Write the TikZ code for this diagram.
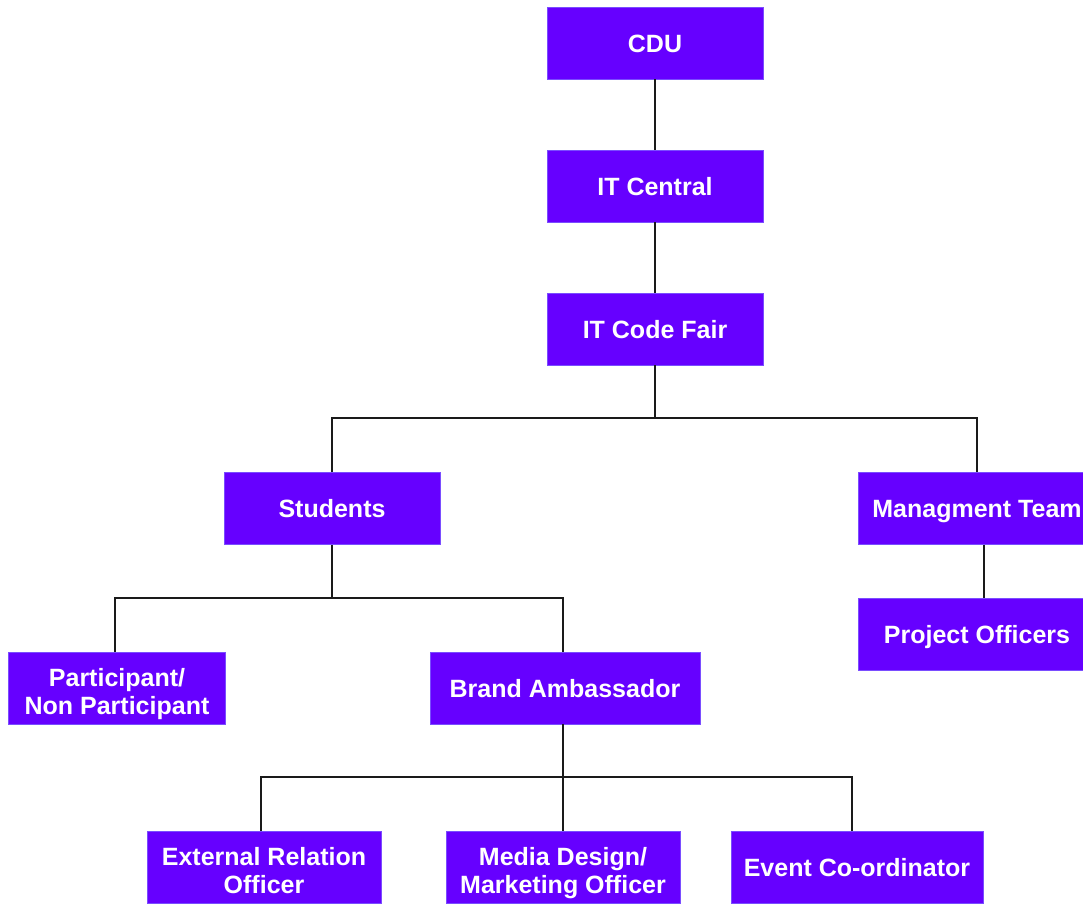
\documentclass[tikz,border=0pt]{standalone}
\usepackage{fontspec}
\setmainfont{Liberation Sans}
\definecolor{boxfill}{HTML}{6600FF}
\definecolor{boxedge}{HTML}{7A4DFF}
\definecolor{linecol}{HTML}{1A1A1A}
\begin{document}
\begin{tikzpicture}[x=1pt,y=-1pt,
  box/.style={rectangle, fill=boxfill, draw=boxedge, line width=0.8pt,
    minimum height=72pt, inner sep=0pt, text=white, align=center,
    font=\fontsize{25}{28}\selectfont\bfseries},
  one/.style={box, text height=18.5pt, text depth=0pt},
  two/.style={box, text height=52pt, text depth=0pt},
  conn/.style={draw=linecol, line width=1.3pt}]
\useasboundingbox (0,0) rectangle (1083,903);
\node[one, minimum width=216pt] (cdu) at (655,43) {CDU};
\node[one, minimum width=216pt] (itc) at (655,186) {IT Central};
\node[one, minimum width=216pt] (icf) at (655,329) {IT Code Fair};
\node[one, minimum width=216pt] (stu) at (332,508.5) {Students};
\node[one, minimum width=238pt] (mgt) at (977,508.5) {Managment Team};
\node[one, minimum width=238pt] (po) at (977,634) {Project Officers};
\node[two, minimum width=217pt] (par) at (117,688) {Participant/\\Non Participant};
\node[one, minimum width=270pt] (ba) at (565,688) {Brand Ambassador};
\node[two, minimum width=234pt] (ero) at (264,867) {External Relation\\Officer};
\node[two, minimum width=234pt] (mdm) at (563,867) {Media Design/\\Marketing Officer};
\node[one, minimum width=252pt] (eco) at (857,867) {Event Co-ordinator};
\coordinate (j1) at (655,418);
\coordinate (j2) at (332,598);
\coordinate (j3) at (565,777);
\draw[conn] (cdu.south) -- (itc.north);
\draw[conn] (itc.south) -- (icf.north);
\draw[conn] (icf.south) -- (j1) -| (stu.north);
\draw[conn] (j1) -| (mgt.north);
\draw[conn] ([xshift=7pt]mgt.south) -- ([xshift=7pt]po.north);
\draw[conn] (stu.south) -- (j2) -| ([xshift=-2pt]par.north);
\draw[conn] (j2) -| ([xshift=-2pt]ba.north);
\draw[conn] ([xshift=-2pt]ba.south) -- ([xshift=-2pt]j3);
\draw[conn] ([xshift=-2pt]j3) -| ([xshift=-3pt]ero.north);
\draw[conn] ([xshift=-2pt]j3) -| (mdm.north);
\draw[conn] ([xshift=-2pt]j3) -| ([xshift=-5pt]eco.north);
\end{tikzpicture}
\end{document}
